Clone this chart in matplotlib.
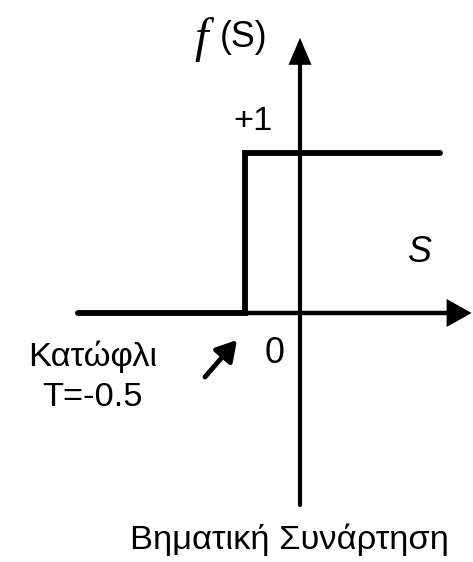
import matplotlib
matplotlib.use("Agg")
import matplotlib.pyplot as plt
from matplotlib.patches import Polygon

# ---- data (threshold step function) ----
threshold = -0.5
step_x = [-2.02, threshold, threshold, 1.27]
step_y = [0, 0, 1, 1]
x_axis = [-2.02, 1.56]
y_axis = [-1.2, 1.72]
labels = {"plus_one": "+1", "zero": "0", "s": "S",
          "thr1": "Κατώφλι", "thr2": "T=-0.5", "title": "Βηματική Συνάρτηση"}

W, H = 473, 562
fig = plt.figure(figsize=(W / 100, H / 100), dpi=100)
ax = fig.add_axes([0, 0, 1, 1])
ax.set_xlim(-300 / 110, 173 / 110)
ax.set_ylim(-249 / 160, 313 / 160)
ax.axis("off")

px = 1 / 110  # x units per pixel
py = 1 / 160  # y units per pixel

font = "Liberation Sans"
fs = 24.8

# axes lines
ax.plot([x_axis[0], x_axis[1] - 20 * px], [0, 0], color="black", lw=3.2,
        solid_capstyle="butt")
ax.plot([0, 0], [y_axis[0], y_axis[1] - 20 * py], color="black", lw=3.0,
        solid_capstyle="round")
# arrow heads
ax.add_patch(Polygon([[x_axis[1], 0], [x_axis[1] - 25 * px, 14 * py],
                      [x_axis[1] - 25 * px, -14 * py]], closed=True,
                     color="black", lw=0))
ax.add_patch(Polygon([[0, y_axis[1]], [-11.5 * px, y_axis[1] - 27 * py],
                      [11.5 * px, y_axis[1] - 27 * py]], closed=True,
                     color="black", lw=0))

# step function
ax.plot(step_x, step_y, color="black", lw=4.2, solid_joinstyle="miter",
        solid_capstyle="round")

# texts
ax.text(-106 * px, (313 - 40) * py, "f", fontfamily="Liberation Serif",
        fontstyle="italic", fontsize=35, ha="left", va="center")
ax.text(-80 * px, (313 - 37) * py, "(S)", fontfamily=font, fontsize=fs + 1,
        ha="left", va="center")
ax.text(-47 * px, (313 - 121) * py, labels["plus_one"], fontfamily=font,
        fontsize=fs, ha="center", va="center")
ax.text(120 * px, (313 - 252) * py, labels["s"], fontfamily=font,
        fontstyle="italic", fontsize=fs + 1, ha="center", va="center")
ax.text(-25 * px, (313 - 353) * py, labels["zero"], fontfamily=font,
        fontsize=fs + 1, ha="center", va="center")
ax.text(-207 * px, (313 - 357) * py, labels["thr1"], fontfamily=font,
        fontsize=fs, ha="center", va="center")
ax.text(-207 * px, (313 - 397) * py, labels["thr2"], fontfamily=font,
        fontsize=fs, ha="center", va="center")
ax.text(-11 * px, (313 - 540) * py, labels["title"], fontfamily=font,
        fontsize=fs, ha="center", va="center")

# pointer arrow to threshold
ax.annotate("", xy=(-63 * px, (313 - 340) * py),
            xytext=(-95 * px, (313 - 377) * py),
            arrowprops=dict(arrowstyle="-|>,head_length=0.6,head_width=0.35",
                            color="black", lw=3.5, mutation_scale=20,
                            shrinkA=0, shrinkB=0))

fig.savefig("out.png", dpi=100)
